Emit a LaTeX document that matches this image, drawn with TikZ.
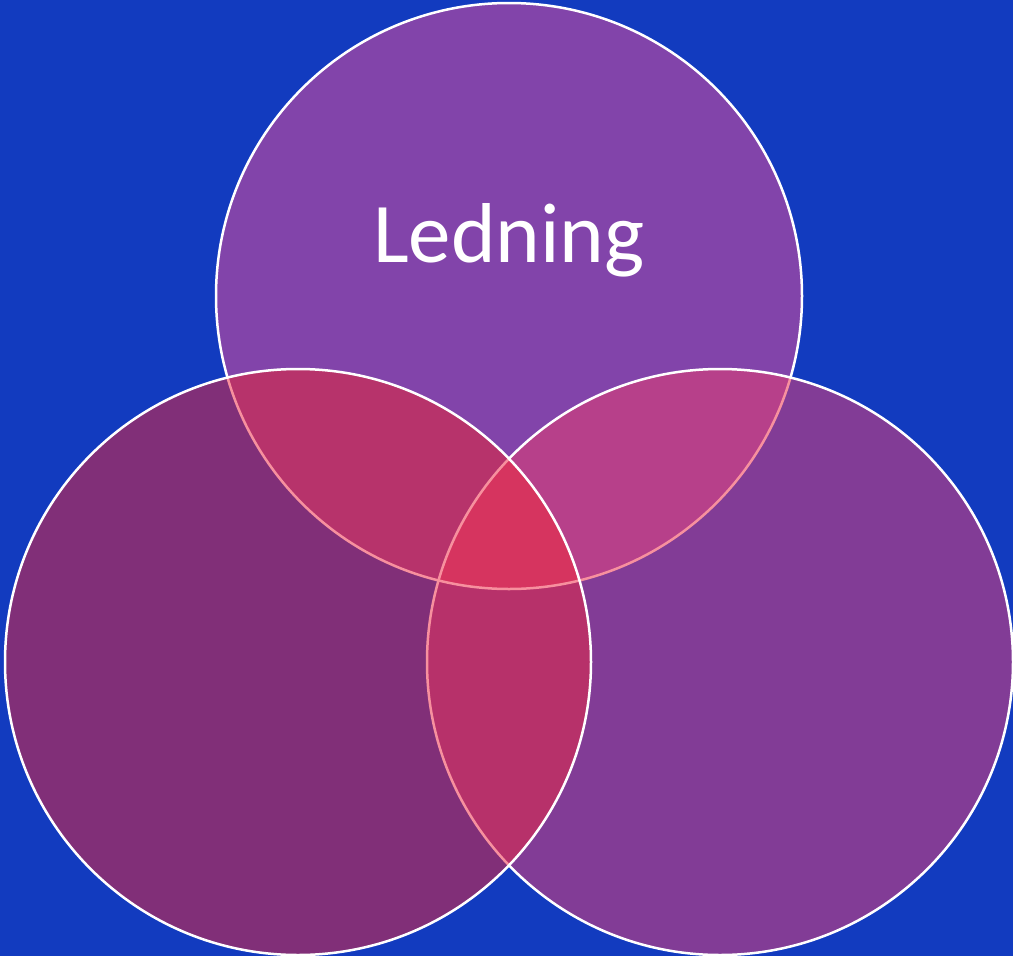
\documentclass[tikz,border=0pt]{standalone}
\usepackage{fontspec}
\setmainfont{Carlito}
\definecolor{bg}{HTML}{123BBF}
\definecolor{ctop}{HTML}{8244AA}
\definecolor{cleft}{HTML}{812F78}
\definecolor{cright}{HTML}{823C96}
\definecolor{ctl}{HTML}{B7336B}
\definecolor{ctr}{HTML}{B7408A}
\definecolor{clr}{HTML}{B7316A}
\definecolor{cmid}{HTML}{D6345F}
\definecolor{cpink}{HTML}{F7909E}
\begin{document}
\begin{tikzpicture}[x=1pt,y=-1pt,
  outl/.style={draw=white,line width=2.5pt},
  inl/.style={draw=cpink,line width=2.5pt}]
\def\R{293}
\fill[bg] (0,0) rectangle (1013,956);
\useasboundingbox (0,0) rectangle (1013,956);
\coordinate (T) at (509,296);
\coordinate (L) at (298,662);
\coordinate (Rt) at (720,662);
% top circle
\fill[ctop] (T) circle (\R);
\draw[outl] (T) circle (\R);
% right circle
\fill[cright] (Rt) circle (\R);
\begin{scope}
  \clip (Rt) circle (\R);
  \fill[ctr] (T) circle (\R);
  \draw[inl] (T) circle (\R);
\end{scope}
\draw[outl] (Rt) circle (\R);
% left circle
\fill[cleft] (L) circle (\R);
\begin{scope}
  \clip (L) circle (\R);
  \fill[ctl] (T) circle (\R);
  \fill[clr] (Rt) circle (\R);
  \begin{scope}
    \clip (T) circle (\R);
    \fill[cmid] (Rt) circle (\R);
  \end{scope}
  \draw[inl] (T) circle (\R);
  \draw[inl] (Rt) circle (\R);
\end{scope}
\draw[outl] (L) circle (\R);
\node[anchor=base,text=white,font=\fontsize{85}{100}\selectfont,inner sep=0pt] (lbl) at (509,262) {Ledning};
\end{tikzpicture}
\end{document}
